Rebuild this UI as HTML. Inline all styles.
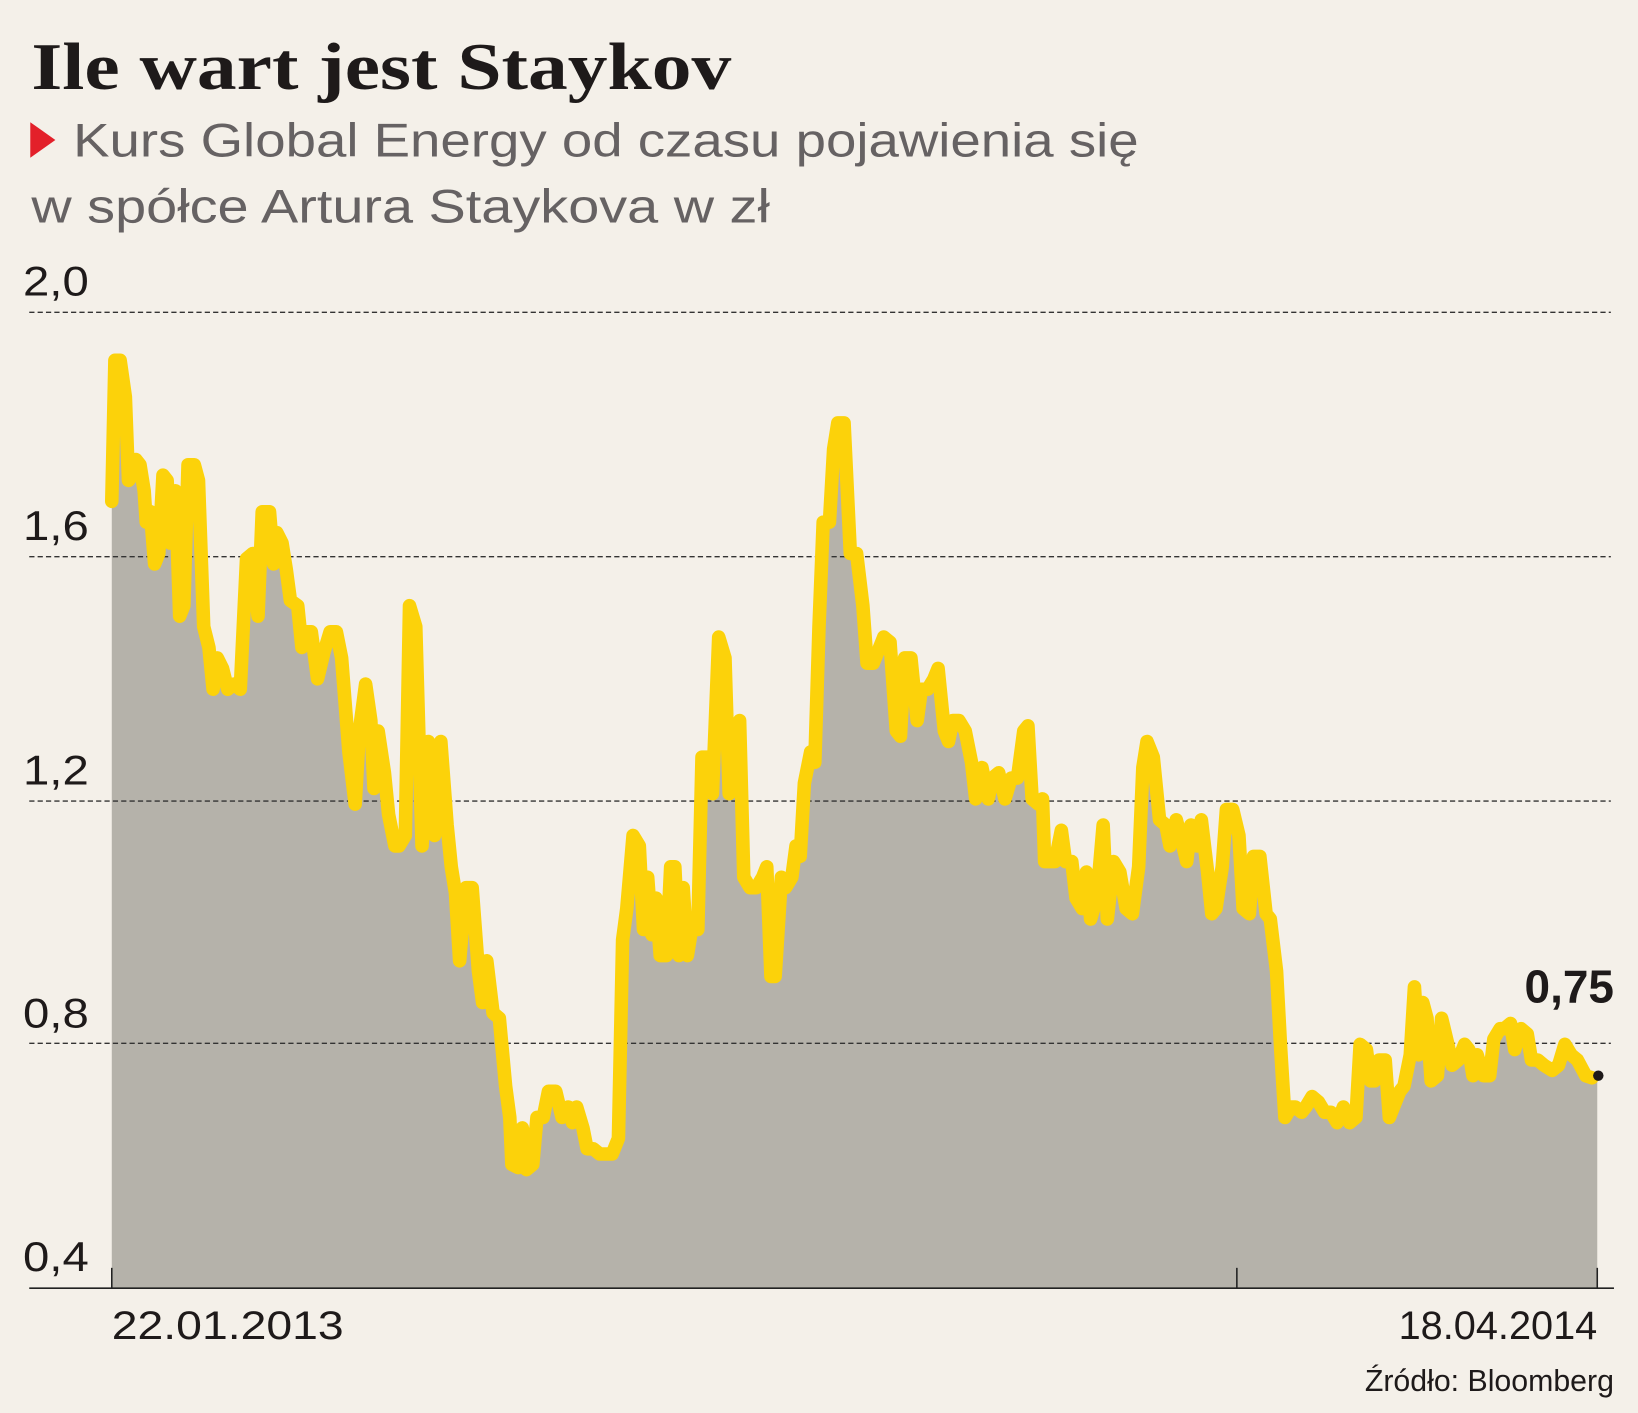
<!DOCTYPE html>
<html><head><meta charset="utf-8"><style>
html,body{margin:0;padding:0;background:#f4f0e9;}
svg{display:block}
</style></head><body>
<svg width="1638" height="1413" viewBox="0 0 1568 1353" preserveAspectRatio="none" xmlns="http://www.w3.org/2000/svg">
<rect width="1568" height="1353" fill="#f4f0e9"/>
<text x="30" y="85" font-family="Liberation Serif, serif" font-weight="bold" font-size="64" fill="#1e1a1a" textLength="670" lengthAdjust="spacingAndGlyphs">Ile wart jest Staykov</text>
<polygon points="29,117 53,134 29,151" fill="#e3202a"/>
<text x="70" y="150" font-family="Liberation Sans, sans-serif" font-size="45" fill="#666263" textLength="1020" lengthAdjust="spacingAndGlyphs">Kurs Global Energy od czasu pojawienia się</text>
<text x="30" y="213" font-family="Liberation Sans, sans-serif" font-size="45" fill="#666263" textLength="707" lengthAdjust="spacingAndGlyphs">w spółce Artura Staykova w zł</text>
<g font-family="Liberation Sans, sans-serif" font-size="40" fill="#1e1a1a">
<text x="22" y="283" textLength="63" lengthAdjust="spacingAndGlyphs">2,0</text>
<text x="22" y="517" textLength="63" lengthAdjust="spacingAndGlyphs">1,6</text>
<text x="22" y="751" textLength="63" lengthAdjust="spacingAndGlyphs">1,2</text>
<text x="22" y="984" textLength="63" lengthAdjust="spacingAndGlyphs">0,8</text>
<text x="22" y="1217" textLength="63" lengthAdjust="spacingAndGlyphs">0,4</text>
</g>
<polygon fill="#b5b2aa" points="107,1233 107,480 110,345 115,345 120,380 123,460 127,455 130,440 134,445 138,470 140,500 144,490 148,540 152,530 156,455 160,460 163,520 168,470 172,590 176,580 180,445 186,445 190,460 195,600 200,620 204,660 208,630 213,640 218,660 224,655 230,660 236,535 242,530 247,590 251,490 258,490 262,540 265,510 270,520 274,545 278,575 285,580 289,620 292,605 298,605 304,650 310,625 316,605 322,605 327,630 334,720 340,770 344,700 350,655 355,690 358,755 362,700 368,740 372,780 378,810 382,810 388,800 392,580 398,600 404,810 410,710 416,800 422,710 428,790 432,830 436,855 440,920 446,850 452,850 458,930 462,960 466,920 472,970 478,975 484,1040 488,1070 490,1115 496,1118 500,1080 504,1120 510,1115 514,1070 520,1070 525,1045 532,1045 538,1070 544,1060 548,1075 552,1060 558,1080 562,1100 568,1100 574,1105 580,1105 586,1105 592,1090 596,900 600,870 606,800 612,810 616,890 620,840 624,895 628,860 632,915 638,915 642,830 646,830 650,915 654,850 658,915 662,890 668,890 672,725 678,725 682,760 688,610 694,630 698,760 702,700 708,690 712,840 718,850 724,850 730,840 734,830 738,935 742,935 748,840 752,850 758,840 762,810 766,820 770,750 776,720 780,730 784,600 788,500 794,500 798,430 802,405 808,405 814,530 820,530 826,580 830,635 836,635 840,625 846,610 852,615 858,700 862,705 866,630 872,630 878,690 882,660 888,660 894,650 898,640 904,700 908,710 912,690 918,690 924,700 930,730 934,765 940,735 946,765 950,745 956,740 962,765 968,745 974,745 980,700 984,695 988,765 994,770 998,765 1000,825 1004,825 1010,825 1016,795 1020,825 1026,825 1030,860 1036,870 1040,835 1044,880 1050,860 1056,790 1060,880 1066,825 1072,835 1078,870 1084,875 1090,830 1094,735 1098,710 1104,725 1110,785 1116,790 1120,810 1126,785 1130,800 1136,825 1140,790 1146,810 1150,785 1156,835 1160,875 1164,870 1170,830 1174,775 1180,775 1186,800 1190,870 1196,875 1200,820 1206,820 1212,875 1216,880 1222,930 1226,1005 1230,1070 1236,1060 1240,1060 1246,1065 1250,1060 1256,1050 1262,1055 1268,1065 1274,1065 1280,1075 1286,1060 1292,1075 1298,1070 1302,1000 1308,1005 1312,1035 1316,1035 1320,1015 1326,1015 1330,1070 1336,1055 1340,1045 1344,1040 1350,1010 1354,945 1358,1010 1362,960 1366,975 1370,1035 1376,1030 1380,975 1386,1000 1390,1020 1396,1015 1402,1000 1406,1005 1410,1030 1414,1010 1420,1030 1426,1030 1430,995 1436,985 1440,985 1446,980 1450,1005 1456,985 1462,990 1466,1015 1472,1015 1478,1020 1486,1025 1492,1020 1498,1000 1504,1010 1510,1015 1518,1030 1529,1032 1529,1233"/>
<g stroke="#333" stroke-width="1.3" stroke-dasharray="5,3">
<line x1="28" y1="299" x2="1542" y2="299"/>
<line x1="28" y1="533" x2="1542" y2="533"/>
<line x1="28" y1="767" x2="1542" y2="767"/>
<line x1="28" y1="999" x2="1542" y2="999"/>
</g>
<polyline fill="none" stroke="#fcd20a" stroke-width="13" stroke-linejoin="round" stroke-linecap="round" points="107,480 110,345 115,345 120,380 123,460 127,455 130,440 134,445 138,470 140,500 144,490 148,540 152,530 156,455 160,460 163,520 168,470 172,590 176,580 180,445 186,445 190,460 195,600 200,620 204,660 208,630 213,640 218,660 224,655 230,660 236,535 242,530 247,590 251,490 258,490 262,540 265,510 270,520 274,545 278,575 285,580 289,620 292,605 298,605 304,650 310,625 316,605 322,605 327,630 334,720 340,770 344,700 350,655 355,690 358,755 362,700 368,740 372,780 378,810 382,810 388,800 392,580 398,600 404,810 410,710 416,800 422,710 428,790 432,830 436,855 440,920 446,850 452,850 458,930 462,960 466,920 472,970 478,975 484,1040 488,1070 490,1115 496,1118 500,1080 504,1120 510,1115 514,1070 520,1070 525,1045 532,1045 538,1070 544,1060 548,1075 552,1060 558,1080 562,1100 568,1100 574,1105 580,1105 586,1105 592,1090 596,900 600,870 606,800 612,810 616,890 620,840 624,895 628,860 632,915 638,915 642,830 646,830 650,915 654,850 658,915 662,890 668,890 672,725 678,725 682,760 688,610 694,630 698,760 702,700 708,690 712,840 718,850 724,850 730,840 734,830 738,935 742,935 748,840 752,850 758,840 762,810 766,820 770,750 776,720 780,730 784,600 788,500 794,500 798,430 802,405 808,405 814,530 820,530 826,580 830,635 836,635 840,625 846,610 852,615 858,700 862,705 866,630 872,630 878,690 882,660 888,660 894,650 898,640 904,700 908,710 912,690 918,690 924,700 930,730 934,765 940,735 946,765 950,745 956,740 962,765 968,745 974,745 980,700 984,695 988,765 994,770 998,765 1000,825 1004,825 1010,825 1016,795 1020,825 1026,825 1030,860 1036,870 1040,835 1044,880 1050,860 1056,790 1060,880 1066,825 1072,835 1078,870 1084,875 1090,830 1094,735 1098,710 1104,725 1110,785 1116,790 1120,810 1126,785 1130,800 1136,825 1140,790 1146,810 1150,785 1156,835 1160,875 1164,870 1170,830 1174,775 1180,775 1186,800 1190,870 1196,875 1200,820 1206,820 1212,875 1216,880 1222,930 1226,1005 1230,1070 1236,1060 1240,1060 1246,1065 1250,1060 1256,1050 1262,1055 1268,1065 1274,1065 1280,1075 1286,1060 1292,1075 1298,1070 1302,1000 1308,1005 1312,1035 1316,1035 1320,1015 1326,1015 1330,1070 1336,1055 1340,1045 1344,1040 1350,1010 1354,945 1358,1010 1362,960 1366,975 1370,1035 1376,1030 1380,975 1386,1000 1390,1020 1396,1015 1402,1000 1406,1005 1410,1030 1414,1010 1420,1030 1426,1030 1430,995 1436,985 1440,985 1446,980 1450,1005 1456,985 1462,990 1466,1015 1472,1015 1478,1020 1486,1025 1492,1020 1498,1000 1504,1010 1510,1015 1518,1030 1524,1032"/>
<line x1="28" y1="1233.5" x2="1545" y2="1233.5" stroke="#222" stroke-width="1.5"/>
<line x1="107" y1="1214" x2="107" y2="1233" stroke="#222" stroke-width="1.5"/>
<line x1="1184" y1="1214" x2="1184" y2="1233" stroke="#222" stroke-width="1.5"/>
<line x1="1529" y1="1214" x2="1529" y2="1233" stroke="#222" stroke-width="1.5"/>
<circle cx="1530" cy="1030" r="5" fill="#1e1a1a"/>
<text x="1545" y="960" text-anchor="end" font-family="Liberation Sans, sans-serif" font-weight="bold" font-size="44" fill="#1e1a1a">0,75</text>
<g font-family="Liberation Sans, sans-serif" font-size="38" fill="#1e1a1a">
<text x="107" y="1282" textLength="222" lengthAdjust="spacingAndGlyphs">22.01.2013</text>
<text x="1529" y="1282" text-anchor="end">18.04.2014</text>
</g>
<text x="1545" y="1332" text-anchor="end" font-family="Liberation Sans, sans-serif" font-size="29" fill="#1e1a1a">Źródło: Bloomberg</text>
</svg>
</body></html>
